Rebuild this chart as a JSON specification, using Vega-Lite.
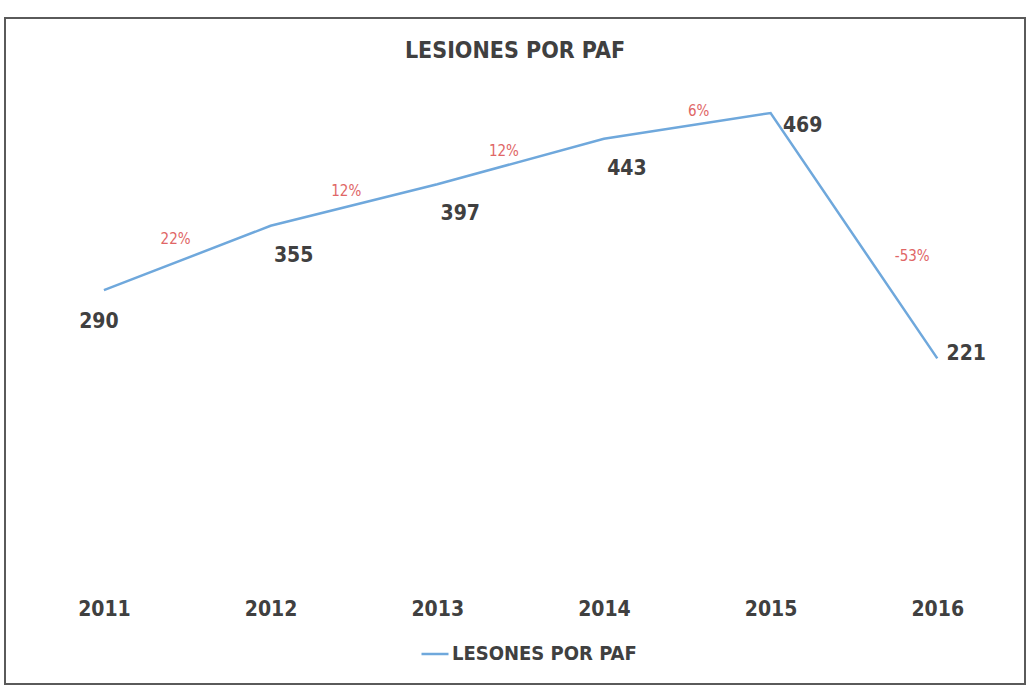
{
  "$schema": "https://vega.github.io/schema/vega-lite/v6.json",
  "width": 1020,
  "height": 666,
  "autosize": {"type": "none"},
  "padding": {"left": 5, "top": 18, "right": 6, "bottom": 2},
  "background": "white",
  "config": {
    "view": {"stroke": "#5a5a5a", "strokeWidth": 2},
    "font": "DejaVu Sans Condensed, Roboto, sans-serif"
  },
  "title": {
    "text": "LESIONES POR PAF",
    "font": "DejaVu Sans Condensed, Roboto, sans-serif",
    "fontSize": 23,
    "fontWeight": "bold",
    "color": "#404040",
    "anchor": "middle",
    "frame": "group",
    "offset": -45
  },
  "data": {
    "values": [
      {"year": "2011", "value": 290, "pct": ""},
      {"year": "2012", "value": 355, "pct": "22%"},
      {"year": "2013", "value": 397, "pct": "12%"},
      {"year": "2014", "value": 443, "pct": "12%"},
      {"year": "2015", "value": 469, "pct": "6%"},
      {"year": "2016", "value": 221, "pct": "-53%"}
    ]
  },
  "encoding": {
    "x": {
      "field": "year",
      "type": "ordinal",
      "scale": {"type": "point", "padding": 0.56, "align": 0.53},
      "axis": {
        "title": null,
        "domain": false,
        "ticks": false,
        "grid": false,
        "offset": -92,
        "labelAngle": 0,
        "labelPadding": 6,
        "labelFont": "DejaVu Sans Condensed, Roboto, sans-serif",
        "labelFontSize": 21,
        "labelFontWeight": "bold",
        "labelColor": "#404040"
      }
    },
    "y": {
      "field": "value",
      "type": "quantitative",
      "scale": {"domain": [-108, 565], "zero": false, "nice": false},
      "axis": null
    }
  },
  "layer": [
    {
      "mark": {"type": "line", "strokeWidth": 2.5},
      "encoding": {
        "color": {
          "datum": "LESONES POR PAF",
          "type": "nominal",
          "scale": {"range": ["#6fa8dc"]},
          "legend": {
            "orient": "none",
            "legendX": 415,
            "legendY": 621,
            "title": null,
            "symbolType": "stroke",
            "symbolSize": 729,
            "symbolStrokeWidth": 2.5,
            "labelFont": "DejaVu Sans Condensed, Roboto, sans-serif",
            "labelFontSize": 20,
            "labelFontWeight": "bold",
            "labelColor": "#404040",
            "labelLimit": 0,
            "labelOffset": 2
          }
        }
      }
    },
    {
      "transform": [{"filter": "datum.year == '2011'"}],
      "mark": {"type": "text", "dx": -5, "dy": 32, "fontSize": 21, "fontWeight": "bold", "color": "#404040"},
      "encoding": {"text": {"field": "value"}}
    },
    {
      "transform": [{"filter": "datum.year == '2012' || datum.year == '2013' || datum.year == '2014'"}],
      "mark": {"type": "text", "dx": 23, "dy": 30, "fontSize": 21, "fontWeight": "bold", "color": "#404040"},
      "encoding": {"text": {"field": "value"}}
    },
    {
      "transform": [{"filter": "datum.year == '2015'"}],
      "mark": {"type": "text", "dx": 32, "dy": 13, "fontSize": 21, "fontWeight": "bold", "color": "#404040"},
      "encoding": {"text": {"field": "value"}}
    },
    {
      "transform": [{"filter": "datum.year == '2016'"}],
      "mark": {"type": "text", "dx": 29, "dy": -4, "fontSize": 21, "fontWeight": "bold", "color": "#404040"},
      "encoding": {"text": {"field": "value"}}
    },
    {
      "transform": [{"filter": "datum.year == '2012'"}],
      "mark": {"type": "text", "dx": -95, "dy": 13, "fontSize": 15, "color": "#e06666"},
      "encoding": {"text": {"field": "pct"}}
    },
    {
      "transform": [{"filter": "datum.year == '2013'"}],
      "mark": {"type": "text", "dx": -91, "dy": 7, "fontSize": 15, "color": "#e06666"},
      "encoding": {"text": {"field": "pct"}}
    },
    {
      "transform": [{"filter": "datum.year == '2014'"}],
      "mark": {"type": "text", "dx": -100, "dy": 12, "fontSize": 15, "color": "#e06666"},
      "encoding": {"text": {"field": "pct"}}
    },
    {
      "transform": [{"filter": "datum.year == '2015'"}],
      "mark": {"type": "text", "dx": -72, "dy": -2, "fontSize": 15, "color": "#e06666"},
      "encoding": {"text": {"field": "pct"}}
    },
    {
      "transform": [{"filter": "datum.year == '2016'"}],
      "mark": {"type": "text", "dx": -25, "dy": -102, "fontSize": 15, "color": "#e06666"},
      "encoding": {"text": {"field": "pct"}}
    }
  ]
}
